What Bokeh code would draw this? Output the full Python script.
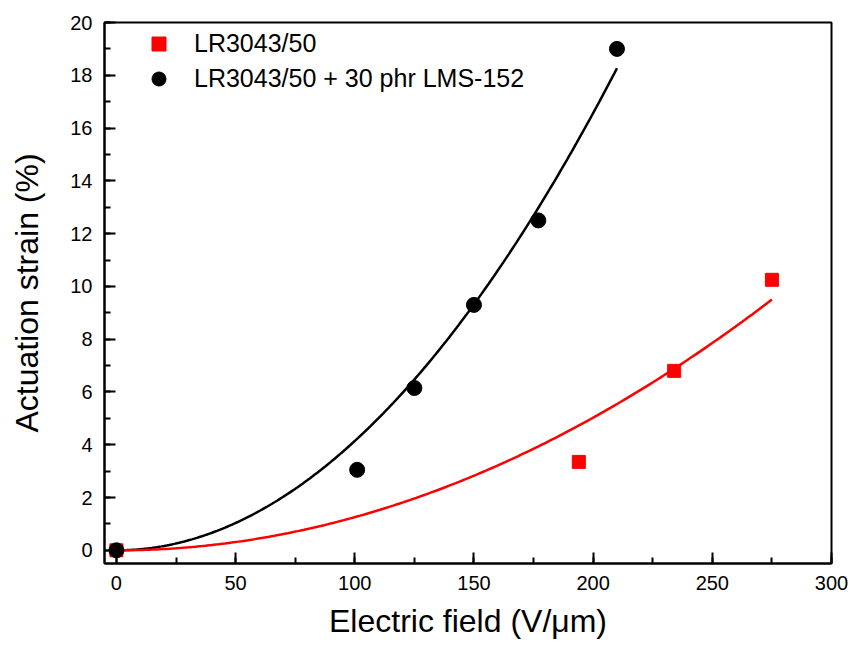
import numpy as np
from bokeh.plotting import figure
from bokeh.models import Range1d, SingleIntervalTicker, Legend, LegendItem
from bokeh.embed import file_html
from bokeh.resources import INLINE

# ---- data ----
red_label = "LR3043/50"
red_field = [0, 194, 234, 275]          # V/um
red_strain = [0.0, 3.35, 6.8, 10.25]    # %

black_label = "LR3043/50 + 30 phr LMS-152"
black_field = [0, 101, 125, 150, 177, 210]
black_strain = [0.0, 3.05, 6.15, 9.3, 12.5, 19.0]

x_label = "Electric field (V/\u03bcm)"
y_label = "Actuation strain (%)"


def quad_fit(xs, ys):
    """Least-squares fit of strain = a * E^2 (Maxwell-stress law)."""
    xs = np.asarray(xs, float)
    ys = np.asarray(ys, float)
    a = np.sum(xs**2 * ys) / np.sum(xs**4)
    xf = np.linspace(0, xs.max(), 200)
    return xf, a * xf**2


FONT = "Liberation Sans"

p = figure(width=848, height=646, output_backend="svg", toolbar_location=None,
           x_range=Range1d(-5, 300), y_range=Range1d(-0.5, 20),
           min_border_left=104, min_border_right=17, min_border_top=22, min_border_bottom=83)
p.background_fill_color = "white"
p.border_fill_color = "white"
p.grid.visible = False
p.outline_line_color = "black"
p.outline_line_width = 2
p.outline_line_alpha = 1

p.xaxis.ticker = SingleIntervalTicker(interval=50, num_minor_ticks=2)
p.yaxis.ticker = SingleIntervalTicker(interval=2, num_minor_ticks=2)

for ax in (p.xaxis[0], p.yaxis[0]):
    ax.axis_line_color = "black"
    ax.axis_line_width = 2
    ax.major_tick_line_color = "black"
    ax.major_tick_line_width = 2
    ax.minor_tick_line_color = "black"
    ax.minor_tick_line_width = 2
    ax.major_tick_in = 11
    ax.major_tick_out = 0
    ax.minor_tick_in = 6
    ax.minor_tick_out = 0
    ax.major_label_text_font = FONT
    ax.major_label_text_font_size = "20px"
    ax.major_label_text_color = "black"
    ax.axis_label_text_font = FONT
    ax.axis_label_text_font_size = "32px"
    ax.axis_label_text_font_style = "normal"
    ax.axis_label_text_color = "black"

p.xaxis.axis_label = x_label
p.yaxis.axis_label = y_label
p.xaxis.major_label_standoff = 12
p.yaxis.major_label_standoff = 12
p.xaxis.axis_label_standoff = 10
p.yaxis.axis_label_standoff = 22

# fit curves
bx, by = quad_fit(black_field, black_strain)
rx, ry = quad_fit(red_field, red_strain)
p.line(bx, by, line_color="black", line_width=2.5)
p.line(rx, ry, line_color="#ff0000", line_width=2.5)

# data points
r_sq = p.scatter(red_field, red_strain, marker="square", size=13,
                 fill_color="#ff0000", line_color="#ff0000")
r_ci = p.scatter(black_field, black_strain, marker="circle", size=15,
                 fill_color="black", line_color="black")

legend = Legend(items=[LegendItem(label=red_label, renderers=[r_sq]),
                       LegendItem(label=black_label, renderers=[r_ci])],
                location=(37, 467), orientation="vertical",
                glyph_width=35, glyph_height=35, label_height=35,
                label_standoff=18, spacing=-4, padding=0, margin=0,
                label_text_font=FONT, label_text_font_size="25px",
                label_text_color="black",
                border_line_color=None, background_fill_alpha=0)
p.add_layout(legend, "center")

open("out.html", "w").write(file_html(p, INLINE))
